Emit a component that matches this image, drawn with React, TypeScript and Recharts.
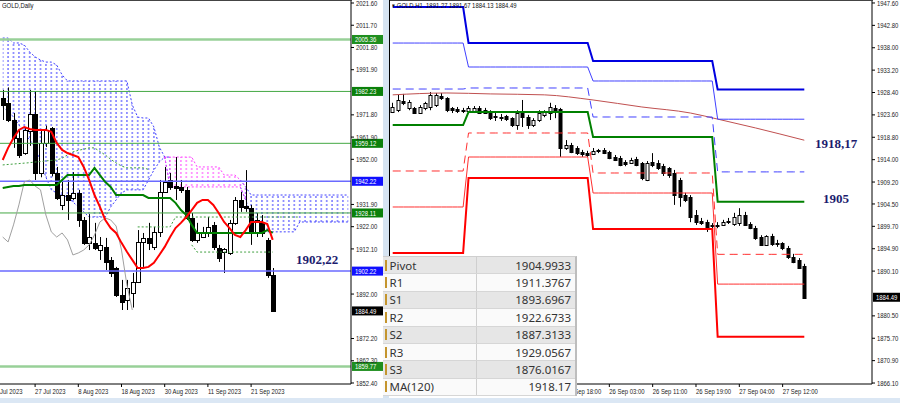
import { Area, Bar, ComposedChart, Line, ReferenceLine, XAxis, YAxis } from "recharts";

// ---------- daily chart ----------
const D_DATES = [
  "19 Jul 2023", "20 Jul 2023", "21 Jul 2023", "24 Jul 2023", "25 Jul 2023", "26 Jul 2023", "27 Jul 2023", "28 Jul 2023", "31 Jul 2023",
  "1 Aug 2023", "2 Aug 2023", "3 Aug 2023", "4 Aug 2023", "7 Aug 2023", "8 Aug 2023", "9 Aug 2023", "10 Aug 2023", "11 Aug 2023",
  "14 Aug 2023", "15 Aug 2023", "16 Aug 2023", "17 Aug 2023", "18 Aug 2023", "21 Aug 2023", "22 Aug 2023", "23 Aug 2023",
  "24 Aug 2023", "25 Aug 2023", "28 Aug 2023", "29 Aug 2023", "30 Aug 2023", "31 Aug 2023",
  "1 Sep 2023", "4 Sep 2023", "5 Sep 2023", "6 Sep 2023", "7 Sep 2023", "8 Sep 2023", "11 Sep 2023", "12 Sep 2023", "13 Sep 2023",
  "14 Sep 2023", "15 Sep 2023", "18 Sep 2023", "19 Sep 2023", "20 Sep 2023", "21 Sep 2023", "22 Sep 2023", "25 Sep 2023",
  "26 Sep 2023", "27 Sep 2023",
];
const D_TICKS = ["27 Jul 2023", "8 Aug 2023", "18 Aug 2023", "30 Aug 2023", "11 Sep 2023", "21 Sep 2023"];
const D_EDGE_TICK = "17 Jul 2023";
const D_FUTURE = 14;

const D_OPEN = [1979.3, 1977.1, 1969.5, 1961.5, 1954.8, 1964.6, 1972.2, 1945.9, 1959.3, 1965.9, 1945.9, 1931.5, 1936.1, 1934.8, 1937.0, 1925.0, 1914.8, 1914.8, 1911.6, 1913.0, 1907.2, 1903.6, 1891.6, 1889.4, 1892.5, 1897.4, 1915.2, 1917.0, 1913.0, 1919.7, 1937.5, 1942.8, 1940.2, 1939.7, 1938.4, 1925.9, 1916.1, 1917.4, 1919.2, 1922.8, 1912.5, 1910.7, 1910.3, 1923.7, 1933.9, 1931.2, 1930.3, 1919.2, 1924.1, 1916.1, 1900.5];
const D_HIGH = [1982.9, 1984.0, 1972.6, 1965.1, 1966.4, 1982.9, 1982.4, 1965.1, 1967.0, 1966.4, 1948.6, 1942.8, 1942.8, 1946.3, 1938.4, 1926.3, 1927.6, 1923.7, 1917.4, 1917.0, 1908.5, 1904.1, 1898.3, 1898.3, 1901.4, 1920.5, 1919.2, 1923.7, 1921.9, 1942.8, 1948.6, 1945.9, 1953.0, 1942.8, 1939.7, 1928.1, 1923.7, 1921.9, 1926.3, 1924.1, 1913.9, 1912.5, 1925.0, 1935.2, 1937.5, 1947.2, 1931.7, 1928.1, 1927.2, 1917.0, 1903.6];
const D_LOW = [1969.5, 1968.6, 1957.1, 1952.6, 1954.0, 1958.0, 1942.8, 1944.0, 1957.5, 1944.4, 1933.9, 1929.4, 1925.0, 1933.9, 1921.9, 1913.9, 1911.6, 1911.6, 1907.2, 1902.7, 1899.6, 1890.7, 1884.9, 1884.9, 1886.0, 1896.9, 1904.1, 1911.6, 1911.6, 1917.4, 1937.0, 1938.4, 1933.9, 1937.0, 1925.0, 1915.2, 1914.8, 1917.0, 1917.4, 1911.6, 1906.3, 1901.4, 1909.4, 1922.8, 1928.6, 1928.6, 1913.9, 1917.4, 1917.4, 1899.2, 1884.1];
const D_CLOSE = [1976.2, 1969.5, 1961.5, 1953.9, 1965.1, 1972.2, 1945.9, 1959.3, 1965.1, 1945.9, 1934.8, 1936.0, 1934.0, 1937.0, 1925.0, 1914.8, 1917.5, 1912.5, 1913.9, 1906.3, 1901.4, 1891.6, 1888.5, 1894.7, 1897.4, 1915.2, 1917.0, 1914.8, 1919.7, 1937.5, 1941.9, 1939.7, 1939.2, 1938.4, 1925.9, 1916.1, 1919.7, 1919.7, 1921.9, 1913.0, 1908.1, 1912.1, 1923.7, 1933.9, 1930.8, 1930.3, 1919.7, 1925.0, 1919.2, 1900.5, 1884.49];

const TENKAN = [1951.7, 1957.1, 1961.5, 1965.1, 1966.4, 1965.5, 1965.1, 1965.1, 1965.1, 1964.2, 1959.3, 1956.2, 1954.8, 1953.9, 1953.0, 1948.6, 1942.8, 1936.1, 1930.8, 1925.0, 1921.4, 1919.2, 1914.8, 1910.8, 1907.2, 1903.6, 1903.6, 1904.1, 1905.9, 1909.4, 1913.0, 1917.4, 1921.4, 1923.7, 1926.3, 1929.4, 1932.6, 1933.9, 1933.9, 1931.7, 1928.1, 1924.1, 1921.4, 1918.3, 1917.4, 1920.5, 1924.1, 1924.1, 1924.1, 1923.2, 1916.1];
const KIJUN = [1939.2, 1939.7, 1940.1, 1940.1, 1940.6, 1940.6, 1940.6, 1940.6, 1940.6, 1940.6, 1940.6, 1942.8, 1945.0, 1945.0, 1945.0, 1945.0, 1945.0, 1948.2, 1945.0, 1941.9, 1939.7, 1936.1, 1936.1, 1936.1, 1936.1, 1936.1, 1936.1, 1934.8, 1934.8, 1934.8, 1934.8, 1934.8, 1932.6, 1929.4, 1927.2, 1922.8, 1919.2, 1919.2, 1919.2, 1919.2, 1919.2, 1919.2, 1919.2, 1919.2, 1919.2, 1919.2, 1919.2, 1919.2, 1919.2, 1920.5, 1919.2];
const CHIKOU = [1917.4, 1915.2, 1922.8, 1931.7, 1941.9, 1942.8, 1940.1, 1938.4, 1927.2, 1919.7, 1917.4, 1919.2, 1916.1, 1909.4, 1910.3, 1911.6, 1913.9, 1918.3, 1924.1, 1925.9, 1925.0, 1922.3, 1911.6, 1896.1, 1884.9];
const SPAN_A = [1975.3, 1973.1, 1970.9, 1967.3, 1963.7, 1960.6, 1957.5, 1950.8, 1944.1, 1938.4, 1937.0, 1936.1, 1935.2, 1933.0, 1930.8, 1928.6, 1926.3, 1926.3, 1926.3, 1926.3, 1930.8, 1933.9, 1937.0, 1938.4, 1938.4, 1938.4, 1938.4, 1942.8, 1947.2, 1950.8, 1953.0, 1953.0, 1953.0, 1953.0, 1953.0, 1953.0, 1948.6, 1948.6, 1948.6, 1948.6, 1948.6, 1945.0, 1945.0, 1945.0, 1942.8, 1933.9, 1927.2, 1922.8, 1919.7, 1919.7, 1919.7, 1919.7, 1919.7, 1919.7, 1919.7, 1924.1, 1924.1, 1924.1, 1924.1, 1924.1, 1924.1, 1924.1, 1924.1, 1924.1, 1924.1];
const SPAN_B = [2006.0, 2006.0, 2003.8, 2003.8, 2002.9, 1999.8, 1997.6, 1996.2, 1995.3, 1995.3, 1994.0, 1989.6, 1986.9, 1986.9, 1986.9, 1986.9, 1986.9, 1986.9, 1986.9, 1986.9, 1986.9, 1986.9, 1986.9, 1986.9, 1976.2, 1970.8, 1970.4, 1970.4, 1966.4, 1957.5, 1953.0, 1939.7, 1939.7, 1939.7, 1939.7, 1939.7, 1939.7, 1939.7, 1939.7, 1939.7, 1939.7, 1939.7, 1939.7, 1939.7, 1939.7, 1939.7, 1936.1, 1936.1, 1936.1, 1936.1, 1936.1, 1936.1, 1936.1, 1936.1, 1936.1, 1936.1, 1936.1, 1936.1, 1936.1, 1936.1, 1936.1, 1936.1, 1936.1, 1936.1, 1936.1];
const DASH_1 = [1949.5, 1949.7, 1949.9, 1950.1, 1950.3, 1950.5, 1950.8, 1951.0, 1951.3, 1951.5, 1951.7, 1952.5, 1954.0, 1955.3, 1956.0, 1956.5, 1957.1, 1957.1, 1955.5, 1953.9, 1952.0, 1950.4, 1949.0, 1948.2, 1948.2, 1948.2, 1948.2, 1947.5];
const DASH_2_FROM = 25;
const DASH_2 = [1921.9, 1921.9, 1921.9, 1921.9, 1921.9, 1921.9, 1921.9, 1926.3, 1926.3, 1926.3, 1926.3, 1926.3, 1926.3, 1926.3, 1926.3, 1926.3, 1926.3, 1926.3, 1926.3, 1926.3, 1926.3, 1926.3, 1926.3, 1926.3, 1926.3, 1926.3, 1926.3, 1926.3, 1926.3, 1926.3, 1926.3];
const DASH_3_FROM = 35;
const DASH_3 = [1913.9, 1910.7, 1910.7, 1910.7, 1910.7, 1910.7, 1910.7, 1910.7, 1910.7, 1910.7, 1910.7, 1910.7, 1910.7, 1910.7, 1910.7, 1910.7];

const D_TICK_VALUES = [2021.6, 2011.7, 2001.8, 1991.9, 1971.8, 1961.9, 1952.0, 1931.9, 1922.0, 1912.1, 1892.0, 1872.2, 1862.3, 1852.4];
const D_LEVELS = [2005.36, 1982.23, 1959.12, 1942.22, 1928.11, 1902.22, 1859.77];
const D_LEVEL_KIND = ["light", "green", "green", "blue", "green", "blue", "light"];
const LAST_PRICE = 1884.49;

// ---------- H1 chart ----------
const H_DAYS = ["22 Sep", "25 Sep", "26 Sep", "27 Sep"];
const H_FIRST_HOUR = [9, 0, 0, 0];
const H_LAST_HOUR = [22, 22, 22, 16];
const H_FUTURE = 12;
// earlier labels sit under the pivot table
const H_TICKS = ["25 Sep 18:00", "26 Sep 03:00", "26 Sep 11:00", "26 Sep 19:00", "27 Sep 04:00", "27 Sep 12:00"];

const H_OPEN = [1924.2, 1924.6, 1926.6, 1925.1, 1925.1, 1924.0, 1925.1, 1925.3, 1925.7, 1927.7, 1927.2, 1925.1, 1924.9, 1924.6, 1924.4, 1924.2, 1925.1, 1924.6, 1924.2, 1923.4, 1923.1, 1923.4, 1922.9, 1921.4, 1924.0, 1923.1, 1921.4, 1922.5, 1923.6, 1924.0, 1925.1, 1924.9, 1916.5, 1917.1, 1916.5, 1915.6, 1915.4, 1915.2, 1915.9, 1916.1, 1915.6, 1914.6, 1914.4, 1913.5, 1913.3, 1914.1, 1913.3, 1909.6, 1913.5, 1913.3, 1912.6, 1912.2, 1911.1, 1909.6, 1906.4, 1906.0, 1902.1, 1900.8, 1900.6, 1899.8, 1900.0, 1900.0, 1900.6, 1900.2, 1900.4, 1902.1, 1900.2, 1899.3, 1897.4, 1895.7, 1897.6, 1896.1, 1896.1, 1895.1, 1893.1, 1892.5, 1891.27];
const H_HIGH = [1926.2, 1927.9, 1928.1, 1926.8, 1925.3, 1925.7, 1926.4, 1928.5, 1928.3, 1928.3, 1927.4, 1925.3, 1925.3, 1925.1, 1925.5, 1925.5, 1925.5, 1925.1, 1924.6, 1924.0, 1923.8, 1923.6, 1923.1, 1924.6, 1926.8, 1923.6, 1922.9, 1924.6, 1924.6, 1926.2, 1925.7, 1925.1, 1918.2, 1917.6, 1916.9, 1916.1, 1915.9, 1916.5, 1916.3, 1916.5, 1915.9, 1915.0, 1914.8, 1913.9, 1914.4, 1914.6, 1913.5, 1913.7, 1915.4, 1913.9, 1913.1, 1912.4, 1911.8, 1910.1, 1906.9, 1906.4, 1903.2, 1901.5, 1901.1, 1900.4, 1900.6, 1901.1, 1901.5, 1902.6, 1903.6, 1902.8, 1900.6, 1899.8, 1897.8, 1897.8, 1898.1, 1896.8, 1896.3, 1895.5, 1893.8, 1892.9, 1891.67];
const H_LOW = [1924.0, 1924.2, 1925.7, 1924.6, 1923.8, 1923.8, 1924.6, 1924.6, 1925.3, 1926.8, 1924.2, 1924.0, 1924.0, 1924.0, 1924.2, 1924.0, 1923.8, 1923.8, 1922.5, 1922.3, 1922.3, 1922.3, 1921.0, 1920.4, 1921.0, 1920.6, 1921.0, 1922.1, 1923.1, 1922.5, 1922.9, 1914.6, 1916.1, 1915.4, 1915.0, 1914.6, 1914.6, 1915.0, 1915.4, 1915.2, 1914.1, 1913.7, 1912.6, 1912.6, 1913.1, 1912.6, 1909.6, 1909.4, 1912.4, 1911.8, 1910.5, 1910.1, 1904.3, 1903.9, 1904.9, 1900.6, 1900.0, 1900.0, 1898.5, 1899.3, 1899.3, 1899.8, 1900.2, 1899.8, 1899.8, 1899.8, 1899.1, 1896.8, 1895.5, 1895.5, 1895.5, 1895.3, 1894.6, 1892.7, 1891.8, 1890.6, 1884.13];
const H_CLOSE = [1925.3, 1926.8, 1926.2, 1926.4, 1924.0, 1925.3, 1926.2, 1927.9, 1927.9, 1927.2, 1924.6, 1924.6, 1924.4, 1924.4, 1925.1, 1925.1, 1924.0, 1924.0, 1922.9, 1923.1, 1922.9, 1922.7, 1921.4, 1924.0, 1923.1, 1921.4, 1922.5, 1924.0, 1924.2, 1925.3, 1924.2, 1916.5, 1917.1, 1915.6, 1915.4, 1915.2, 1915.0, 1915.9, 1916.1, 1915.4, 1914.4, 1913.9, 1912.9, 1913.1, 1913.9, 1912.9, 1910.1, 1913.3, 1912.9, 1912.2, 1911.1, 1910.7, 1906.4, 1906.0, 1905.4, 1901.7, 1900.6, 1900.4, 1899.3, 1900.0, 1899.8, 1900.6, 1900.8, 1901.7, 1902.1, 1900.0, 1899.3, 1897.2, 1895.7, 1897.6, 1895.9, 1895.9, 1895.1, 1893.1, 1892.1, 1890.8, 1884.49];

// daily pivot levels, one value per day in H_DAYS
const PIVOT = [1921.43, 1924.22, 1918.86, 1904.9933];
const R1 = [1929.15, 1929.37, 1923.15, 1911.3767];
const R2 = [1939.01, 1933.87, 1930.87, 1922.6733];
const R3 = [1946.73, 1939.02, 1935.16, 1929.0567];
const S1 = [1911.57, 1919.72, 1911.14, 1893.6967];
const S2 = [1903.85, 1914.57, 1906.85, 1887.3133];
const S3 = [1893.98, 1910.07, 1899.13, 1876.0167];

const MA_BARS = [0, 10, 18, 28, 37, 46, 55, 60, 67, 76];
const MA_VALUES = [1927.9, 1928.3, 1928.1, 1927.9, 1926.8, 1925.3, 1924.0, 1922.7, 1920.8, 1918.17];

const H_TICK_VALUES = [1947.6, 1942.8, 1938.0, 1933.2, 1928.4, 1923.6, 1918.8, 1914.0, 1909.2, 1904.5, 1899.7, 1894.9, 1890.1, 1880.5, 1875.7, 1870.9, 1866.1];

const TABLE_NAMES = ["Pivot", "R1", "S1", "R2", "S2", "R3", "S3", "MA(120)"];
const TABLE_VALUES = ["1904.9933", "1911.3767", "1893.6967", "1922.6733", "1887.3133", "1929.0567", "1876.0167", "1918.17"];

const D_TITLE = "GOLD,Daily";
const H_TITLE = "GOLD.H1  1891.27 1891.67 1884.13 1884.49";
const NOTE_DAILY = "1902,22";
const NOTE_MA = "1918,17";
const NOTE_PIVOT = "1905";

const AXIS_FONT = "'Liberation Sans', Arial, sans-serif";
const NOTE_FONT = "'Liberation Serif', 'DejaVu Serif', serif";
const FS = 7.4;
const SQUEEZE = 0.8;

const dailyRows = [
  ...D_DATES.map((date, i) => ({
    key: date, o: D_OPEN[i], h: D_HIGH[i], l: D_LOW[i], c: D_CLOSE[i],
    tenkan: TENKAN[i], kijun: KIJUN[i], chikou: CHIKOU[i],
  })),
  ...Array.from({ length: D_FUTURE }, (_, n) => ({ key: `f${n}` })),
].map((row: any, i) => {
  const a = SPAN_A[i];
  const b = SPAN_B[i];
  const bear = (j: number) => SPAN_B[j] >= SPAN_A[j];
  const blue = bear(i) || (i > 0 && bear(i - 1)) || (i < SPAN_A.length - 1 && bear(i + 1));
  const pink = !bear(i) || (i > 0 && !bear(i - 1)) || (i < SPAN_A.length - 1 && !bear(i + 1));
  return {
    ...row,
    blue: blue ? [Math.min(a, b), Math.max(a, b)] : null,
    pink: pink ? [Math.min(a, b), Math.max(a, b)] : null,
    d1: DASH_1[i],
    d2: DASH_2[i - DASH_2_FROM],
    d3: DASH_3[i - DASH_3_FROM],
  };
});

const hourRows: any[] = [];
H_DAYS.forEach((day, d) => {
  for (let h = H_FIRST_HOUR[d]; h <= H_LAST_HOUR[d]; h++) {
    const k = hourRows.length;
    const mi = MA_BARS.indexOf(k);
    hourRows.push({
      key: `${day} ${String(h).padStart(2, "0")}:00`,
      o: H_OPEN[k], h: H_HIGH[k], l: H_LOW[k], c: H_CLOSE[k],
      p: PIVOT[d], r1: R1[d], r2: R2[d], r3: R3[d], s1: S1[d], s2: S2[d], s3: S3[d],
      ma: mi >= 0 ? MA_VALUES[mi] : null,
    });
  }
});
for (let n = 0; n < H_FUTURE; n++) hourRows.push({ key: `f${n}` });

// narrow MT4-like label text
function Narrow({ x, y, fill = "#222", children }: any) {
  return (
    <text transform={`translate(${x},${y}) scale(${SQUEEZE},1)`} fontSize={FS} fontFamily={AXIS_FONT} fill={fill}>
      {children}
    </text>
  );
}

function Candle(props: any) {
  const { x, y, width, height, payload } = props;
  if (!payload || payload.h == null) return <g />;
  const top = Math.min(y, y + height);
  const bot = Math.max(y, y + height);
  const span = payload.h - payload.l || 1;
  const py = (v: number) => top + ((payload.h - v) / span) * (bot - top);
  const cx = Math.round(x + width / 2) + 0.5;
  const yo = py(payload.o);
  const yc = py(payload.c);
  const up = payload.c >= payload.o;
  const bt = Math.round(Math.min(yo, yc)) + 0.5;
  const bh = Math.max(1, Math.round(Math.abs(yc - yo)));
  const w = Math.round(width);
  return (
    <g>
      <line x1={cx} x2={cx} y1={top} y2={bot} stroke="#000" strokeWidth={1} />
      <rect x={cx - w / 2} y={bt} width={w} height={bh} fill={up ? "#fff" : "#000"} stroke="#000" strokeWidth={1} />
    </g>
  );
}

const tag = (text: string, bg: string, w: number) => (p: any) => {
  const vb = p.viewBox;
  const x = vb.x + vb.width + 1;
  return (
    <g>
      <rect x={x} y={vb.y - 4.5} width={w} height={9} fill={bg} />
      <Narrow x={x + 3} y={vb.y + 3} fill="#fff">{text}</Narrow>
    </g>
  );
};

function PriceTick({ x, y, payload }: any) {
  return <Narrow x={x} y={y + 2.6}>{Number(payload.value).toFixed(2)}</Narrow>;
}

function DailyTick({ x, y, payload }: any) {
  const v = payload?.value;
  if (v === D_DATES[0]) return <Narrow x={x - 10.8} y={y + 10}>{D_EDGE_TICK}</Narrow>;
  if (!D_TICKS.includes(v)) return <g />;
  return (
    <g>
      <line x1={x} x2={x} y1={y} y2={y + 3} stroke="#000" />
      <Narrow x={x} y={y + 10}>{v}</Narrow>
    </g>
  );
}

function HourTick({ x, y, payload }: any) {
  const v = payload?.value;
  if (!H_TICKS.includes(v)) return <g />;
  return (
    <g>
      <line x1={x} x2={x} y1={y} y2={y + 3} stroke="#000" />
      <Narrow x={x} y={y + 10}>{v}</Narrow>
    </g>
  );
}

const LEVEL_STYLE: Record<string, { stroke: string; width: number; bg: string }> = {
  light: { stroke: "#98d098", width: 2.5, bg: "#1f8f1f" },
  green: { stroke: "#44a844", width: 1, bg: "#0a800a" },
  blue: { stroke: "#6a6aff", width: 1.5, bg: "#1010ff" },
};

export default function App() {
  return (
    <div style={{ position: "absolute", left: 0, top: 0, width: 900, height: 403, background: "#fff", overflow: "hidden" }}>
      <div style={{ position: "absolute", left: 0, top: 0 }}>
        <ComposedChart width={390} height={403} data={dailyRows} margin={{ top: 0, right: 0, bottom: 0, left: 0 }}>
          <defs>
            <pattern id="dotBlue" patternUnits="userSpaceOnUse" width={5.4} height={4}>
              <rect x={2.2} y={0} width={1} height={2} fill="#3535ff" />
            </pattern>
            <pattern id="dotPink" patternUnits="userSpaceOnUse" width={5.4} height={4}>
              <rect x={2.2} y={0} width={1} height={2} fill="#ff40ff" />
            </pattern>
          </defs>
          <XAxis dataKey="key" interval={0} tickLine={false} tickSize={0} tickMargin={0} height={19} tick={<DailyTick />} axisLine={{ stroke: "#000" }} />
          <YAxis orientation="right" width={39} domain={[1851.95, 2022.94]} allowDataOverflow ticks={D_TICK_VALUES} interval={0}
            tick={<PriceTick />} tickSize={3} tickMargin={2}
            axisLine={{ stroke: "#000" }} tickLine={{ stroke: "#000" }} />
          <Area dataKey="blue" type="linear" fill="url(#dotBlue)" fillOpacity={1} stroke="#4040ff" strokeWidth={1}
            strokeDasharray="2 2" isAnimationActive={false} dot={false} activeDot={false} />
          <Area dataKey="pink" type="linear" fill="url(#dotPink)" fillOpacity={1} stroke="#ff40ff" strokeWidth={1}
            strokeDasharray="2 2" isAnimationActive={false} dot={false} activeDot={false} />
          {D_LEVELS.map((v, i) => {
            const s = LEVEL_STYLE[D_LEVEL_KIND[i]];
            return (
              <ReferenceLine key={v} y={v} stroke={s.stroke} strokeWidth={s.width}
                label={tag(v.toFixed(2), s.bg, 31)} />
            );
          })}
          <ReferenceLine y={LAST_PRICE} stroke="none" label={tag(LAST_PRICE.toFixed(2), "#000", 31)} />
          <Line dataKey="d1" stroke="#3f9f3f" strokeWidth={1} strokeDasharray="2 2" dot={false} isAnimationActive={false} />
          <Line dataKey="d2" stroke="#3f9f3f" strokeWidth={1} strokeDasharray="2 2" dot={false} isAnimationActive={false} />
          <Line dataKey="d3" stroke="#3f9f3f" strokeWidth={1} strokeDasharray="2 2" dot={false} isAnimationActive={false} />
          <Line dataKey="chikou" stroke="#a0a0a0" strokeWidth={1} dot={false} isAnimationActive={false} />
          <Line dataKey="kijun" stroke="#008000" strokeWidth={2} dot={false} isAnimationActive={false} />
          <Line dataKey="tenkan" stroke="#ff0000" strokeWidth={2} dot={false} isAnimationActive={false} />
          <Bar dataKey={(d: any) => (d.h == null ? null : [d.l, d.h])} barSize={4} shape={(p: any) => <Candle {...p} />}
            isAnimationActive={false} />
        </ComposedChart>
      </div>

      <div style={{ position: "absolute", left: 390, top: 0 }}>
        <ComposedChart width={510} height={403} data={hourRows} margin={{ top: 0, right: 0, bottom: 0, left: 0 }}>
          <XAxis dataKey="key" interval={0} tickLine={false} tickSize={0} tickMargin={0} height={19} tick={<HourTick />} axisLine={{ stroke: "#000" }} />
          <YAxis orientation="right" width={28} domain={[1865.89, 1948.24]} allowDataOverflow ticks={H_TICK_VALUES} interval={0}
            tick={<PriceTick />} tickSize={3} tickMargin={2}
            axisLine={{ stroke: "#000" }} tickLine={{ stroke: "#000" }} />
          <ReferenceLine y={LAST_PRICE} stroke="none" label={tag(LAST_PRICE.toFixed(2), "#000", 27)} />
          <Line dataKey="ma" type="monotone" connectNulls stroke="#c05050" strokeWidth={1} dot={false} isAnimationActive={false} />
          <Line dataKey="r3" stroke="#0000e0" strokeWidth={2} dot={false} isAnimationActive={false} />
          <Line dataKey="r2" stroke="#4040ff" strokeWidth={1} dot={false} isAnimationActive={false} />
          <Line dataKey="r1" stroke="#4040ff" strokeWidth={1} strokeDasharray="8 5" dot={false} isAnimationActive={false} />
          <Line dataKey="p" stroke="#008000" strokeWidth={2} dot={false} isAnimationActive={false} />
          <Line dataKey="s1" stroke="#ff3030" strokeWidth={1} strokeDasharray="8 5" dot={false} isAnimationActive={false} />
          <Line dataKey="s2" stroke="#ff3030" strokeWidth={1} dot={false} isAnimationActive={false} />
          <Line dataKey="s3" stroke="#ff0000" strokeWidth={2} dot={false} isAnimationActive={false} />
          <Bar dataKey={(d: any) => (d.h == null ? null : [d.l, d.h])} barSize={3} shape={(p: any) => <Candle {...p} />}
            isAnimationActive={false} />
        </ComposedChart>
      </div>

      {/* frames and window chrome */}
      <div style={{ position: "absolute", left: 0, top: 0, width: 352, height: 1, background: "#444" }} />
      <div style={{ position: "absolute", left: 390, top: 0, width: 483, height: 1, background: "#444" }} />
      <div style={{ position: "absolute", left: 389, top: 0, width: 1, height: 385, background: "#000" }} />
      <div style={{ position: "absolute", left: 383, top: 0, width: 6, height: 398, background: "#d6e4f2" }} />
      <div style={{ position: "absolute", left: 0, top: 398, width: 900, height: 5, background: "#dbe7f4" }} />

      <div style={{ position: "absolute", left: 2, top: 1, fontSize: FS, fontFamily: AXIS_FONT, color: "#111", transform: `scaleX(${SQUEEZE})`, transformOrigin: "left top" }}>{D_TITLE}</div>
      <div style={{ position: "absolute", left: 392, top: 1, fontSize: FS, fontFamily: AXIS_FONT, color: "#111", whiteSpace: "pre", transform: `scaleX(${SQUEEZE})`, transformOrigin: "left top" }}>
        {"\u25BE " + H_TITLE}
      </div>

      <div style={{ position: "absolute", left: 296, top: 253, fontFamily: NOTE_FONT, fontWeight: 700, fontSize: 13, lineHeight: "13px", color: "#1c1c6e" }}>{NOTE_DAILY}</div>
      <div style={{ position: "absolute", left: 815, top: 137, fontFamily: NOTE_FONT, fontWeight: 700, fontSize: 13, lineHeight: "13px", color: "#1c1c6e" }}>{NOTE_MA}</div>
      <div style={{ position: "absolute", left: 823, top: 192, fontFamily: NOTE_FONT, fontWeight: 700, fontSize: 13, lineHeight: "13px", color: "#1c1c6e" }}>{NOTE_PIVOT}</div>

      <div style={{ position: "absolute", left: 383, top: 256, width: 192, background: "#fff", borderTop: "1px solid #cfcfcf", borderRight: "2px solid #bdbdbd", fontFamily: "'Noto Sans', 'Open Sans', sans-serif", fontSize: 11.5, color: "#333" }}>
        {TABLE_NAMES.map((name, i) => (
          <div key={name} style={{ display: "flex", height: 17.4, alignItems: "center", background: i % 2 === 0 ? "#e6e6e6" : "#fafafa", borderBottom: "1px solid #d6d6d6", boxSizing: "border-box" }}>
            <div style={{ width: 94, height: "100%", display: "flex", alignItems: "center", borderRight: "1px solid #cfcfcf", boxSizing: "border-box" }}>
              <span style={{ display: "inline-block", width: 1.5, height: 11, background: "#c4952e", marginLeft: 2, marginRight: 3 }} />
              {name}
            </div>
            <div style={{ flex: 1, textAlign: "right", paddingRight: 4 }}>{TABLE_VALUES[i]}</div>
          </div>
        ))}
      </div>
    </div>
  );
}
